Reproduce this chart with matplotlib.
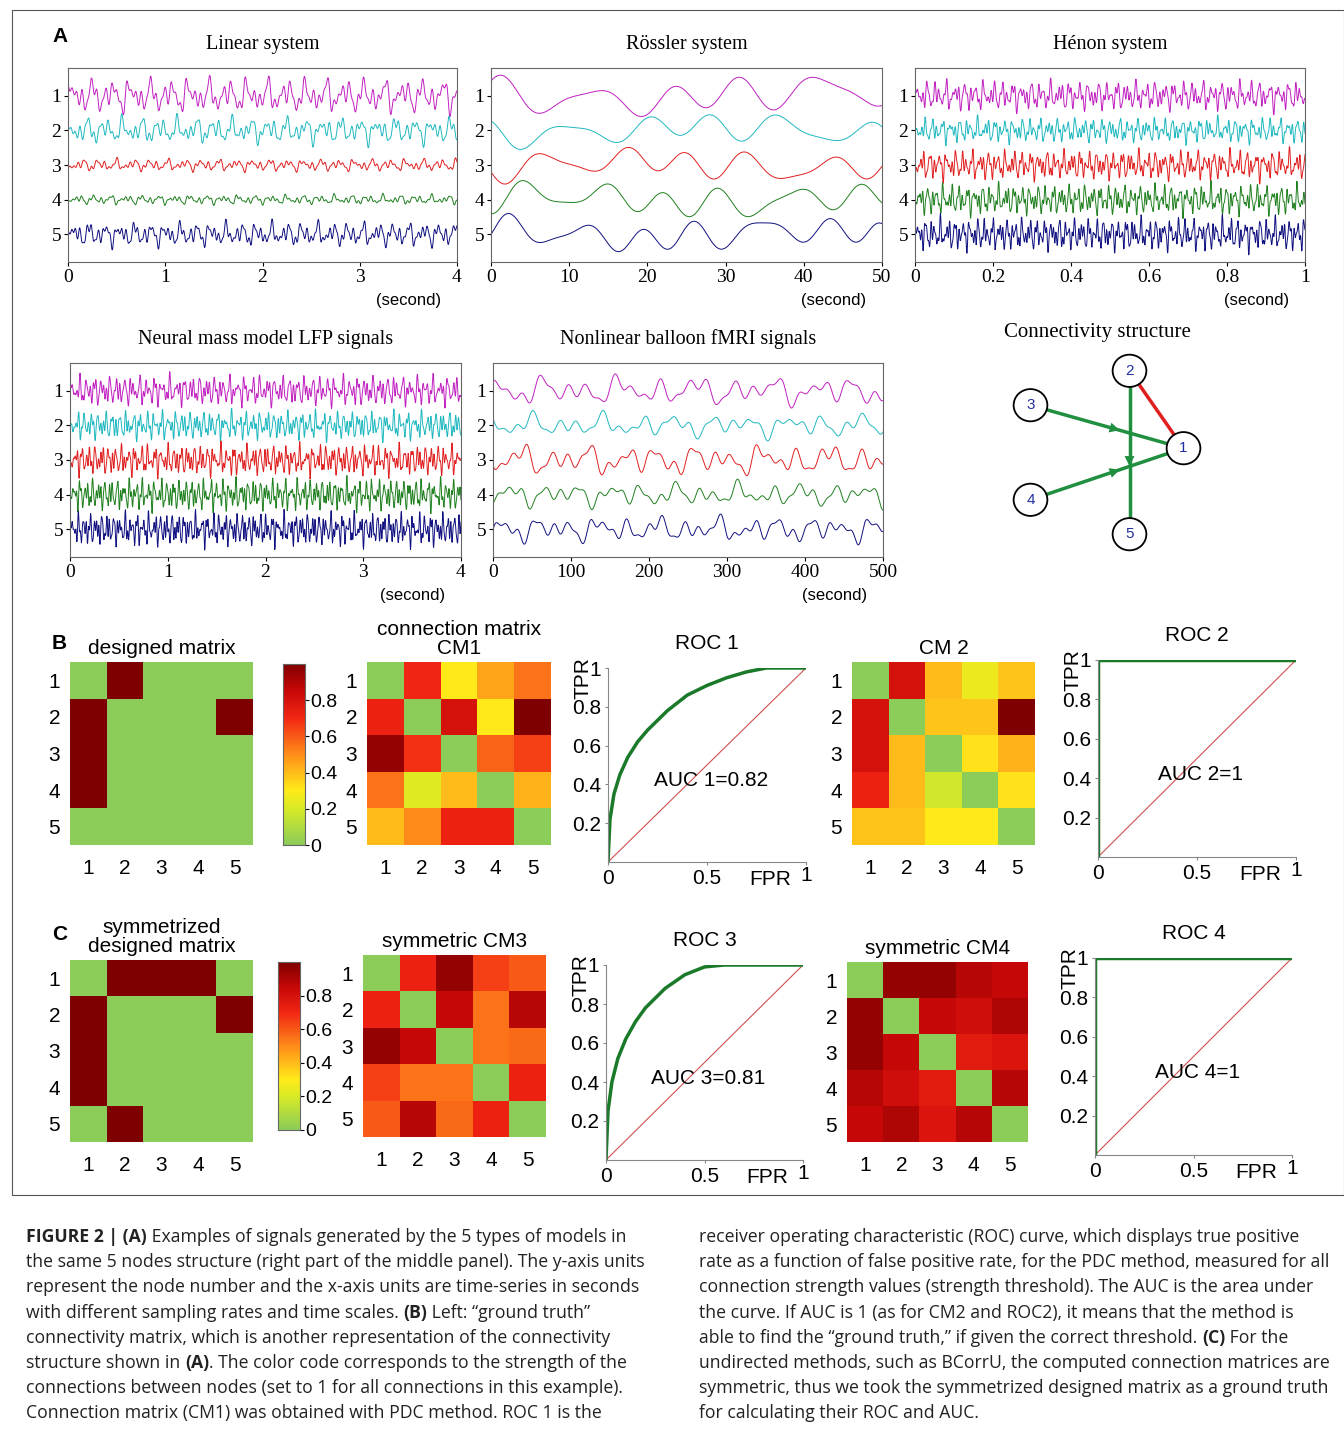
import numpy as np
import matplotlib.pyplot as plt
from matplotlib.colors import LinearSegmentedColormap
from matplotlib.patches import Rectangle, Circle, FancyArrowPatch

W, H = 1344, 1431
SERIF = 'Liberation Serif'
SANS = 'Liberation Sans'

# ---- data ----
node_ticks = [1, 2, 3, 4, 5]
trace_colors = ['#c020c0', '#20b8c0', '#e02020', '#208020', '#101080']

# signal panels: title, x range, x ticks, x tick labels, base frequencies, amplitudes per trace
signal_panels = [
    ('Linear system', (0, 4), [0, 1, 2, 3, 4], ['0', '1', '2', '3', '4'], [5.0, 8.3, 13.1, 19.7], [0.6, 0.5, 0.22, 0.18, 0.45]),
    ('Rössler system', (0, 50), [0, 10, 20, 30, 40, 50], ['0', '10', '20', '30', '40', '50'], [0.1, 0.13, 0.07, 0.02], [0.6, 0.55, 0.55, 0.55, 0.6]),
    ('Hénon system', (0, 1), [0, 0.2, 0.4, 0.6, 0.8, 1], ['0', '0.2', '0.4', '0.6', '0.8', '1'], [41.0, 63.7, 97.3, 131.9], [0.55, 0.45, 0.55, 0.55, 0.6]),
    ('Neural mass model LFP signals', (0, 4), [0, 1, 2, 3, 4], ['0', '1', '2', '3', '4'], [13.0, 19.7, 29.3, 37.1], [0.55, 0.5, 0.55, 0.55, 0.6]),
    ('Nonlinear balloon fMRI signals', (0, 500), [0, 100, 200, 300, 400, 500], ['0', '100', '200', '300', '400', '500'], [0.02, 0.033, 0.051, 0.011], [0.5, 0.45, 0.45, 0.45, 0.45]),
]

designed = [[0, 1, 0, 0, 0], [1, 0, 0, 0, 1], [1, 0, 0, 0, 0], [1, 0, 0, 0, 0], [0, 0, 0, 0, 0]]
designed_sym = [[0, 1, 1, 1, 0], [1, 0, 0, 0, 1], [1, 0, 0, 0, 0], [1, 0, 0, 0, 0], [0, 1, 0, 0, 0]]
cm1 = [[0, 0.70, 0.30, 0.45, 0.55], [0.72, 0, 0.80, 0.30, 1.0], [0.95, 0.68, 0, 0.58, 0.65],
       [0.55, 0.22, 0.40, 0, 0.42], [0.40, 0.50, 0.72, 0.72, 0]]
cm2 = [[0, 0.80, 0.40, 0.25, 0.38], [0.80, 0, 0.38, 0.38, 1.0], [0.80, 0.40, 0, 0.32, 0.42],
       [0.72, 0.40, 0.18, 0, 0.32], [0.38, 0.38, 0.30, 0.30, 0]]
cm3 = [[0, 0.72, 0.95, 0.65, 0.60], [0.72, 0, 0.85, 0.55, 0.88], [0.95, 0.85, 0, 0.55, 0.57],
       [0.65, 0.55, 0.55, 0, 0.72], [0.60, 0.88, 0.57, 0.72, 0]]
cm4 = [[0, 0.95, 0.95, 0.88, 0.85], [0.95, 0, 0.85, 0.82, 0.90], [0.95, 0.85, 0, 0.75, 0.78],
       [0.88, 0.82, 0.75, 0, 0.88], [0.85, 0.90, 0.78, 0.88, 0]]

roc_fpr = [0, 0.01, 0.03, 0.06, 0.1, 0.15, 0.2, 0.3, 0.4, 0.5, 0.6, 0.7, 0.8, 0.9, 1.0]
roc1_tpr = [0, 0.22, 0.35, 0.45, 0.54, 0.62, 0.68, 0.78, 0.86, 0.91, 0.95, 0.98, 1.0, 1.0, 1.0]
roc3_tpr = [0, 0.25, 0.40, 0.52, 0.62, 0.71, 0.78, 0.88, 0.95, 0.99, 1.0, 1.0, 1.0, 1.0, 1.0]
roc_perfect_fpr = [0, 0, 1]
roc_perfect_tpr = [0, 1, 1]

nodes = {1: (0.86, 0.52), 2: (0.62, 0.88), 3: (0.18, 0.72), 4: (0.18, 0.28), 5: (0.62, 0.12)}
green_edges = [(3, 1), (4, 1), (2, 5)]
red_edges = [(2, 1)]

cmap = LinearSegmentedColormap.from_list('gyr', [
    (0.0, (0.55, 0.80, 0.35)), (0.2, (0.85, 0.92, 0.15)), (0.3, (1.0, 0.92, 0.1)),
    (0.5, (1.0, 0.55, 0.1)), (0.7, (0.95, 0.15, 0.08)), (0.85, (0.78, 0.03, 0.03)), (1.0, (0.5, 0.0, 0.0))])

fig = plt.figure(figsize=(W / 100, H / 100), dpi=100)


def px_ax(x0, y0, x1, y1, **kw):
    return fig.add_axes([x0 / W, 1 - y1 / H, (x1 - x0) / W, (y1 - y0) / H], **kw)


def ftext(x, y, s, **kw):
    return fig.text(x / W, 1 - y / H, s, **kw)


# frame around the figure area
fig.add_artist(Rectangle((12 / W, 1 - 1195 / H), 1332 / W, 1185 / H, transform=fig.transFigure,
                         fill=False, lw=0.8, ec='#555555'))

# ---- panel A: signals ----
sig_boxes = [(68, 68, 457, 262), (491, 68, 882, 262), (915, 68, 1305, 262),
             (70, 363, 461, 557), (493, 363, 883, 557)]
for (title, xr, xt, xtl, freqs, amps), box in zip(signal_panels, sig_boxes):
    ax = px_ax(*box)
    t = np.linspace(xr[0], xr[1], 1200)
    for k in range(5):
        y = np.zeros_like(t)
        for m, f in enumerate(freqs):
            y += np.sin(2 * np.pi * f * (1 + 0.07 * k) * t + 1.3 * k + 0.9 * m) / (m + 1) ** 0.4
        y = y / np.abs(y).max() * amps[k]
        ax.plot(t, (k + 1) - y, color=trace_colors[k], lw=0.7)
    ax.set_xlim(*xr)
    ax.set_ylim(5.8, 0.2)
    ax.set_yticks(node_ticks)
    ax.set_yticklabels([str(n) for n in node_ticks], family=SERIF, fontsize=14)
    ax.set_xticks(xt)
    ax.set_xticklabels(xtl, family=SERIF, fontsize=14)
    ax.tick_params(length=3, pad=2)
    for s in ax.spines.values():
        s.set_color('#666666')
    ax.set_title(title, family=SERIF, fontsize=14.5, pad=14)
    ax.text(0.96, -0.2, '(second)', transform=ax.transAxes, ha='right', va='center',
            family=SANS, fontsize=12)

ftext(52, 37, 'A', family=SANS, fontsize=15, weight='bold', va='center')

# connectivity structure
ax = px_ax(990, 345, 1215, 560)
ax.set_xlim(0, 1)
ax.set_ylim(0, 1)
ax.axis('off')
ftext(1097, 333, 'Connectivity structure', family=SERIF, fontsize=15, ha='center', va='center')
for a, b in green_edges + red_edges:
    col = '#209040' if (a, b) in green_edges else '#e02020'
    p0, p1 = nodes[a], nodes[b]
    ax.plot([p0[0], p1[0]], [p0[1], p1[1]], color=col, lw=2.5)
    if col == '#209040':
        mid = (p0[0] + 0.6 * (p1[0] - p0[0]), p0[1] + 0.6 * (p1[1] - p0[1]))
        ax.add_patch(FancyArrowPatch(p0, mid, arrowstyle='-|>', mutation_scale=18, color=col, lw=0))
for n, (x, y) in nodes.items():
    ax.add_patch(Circle((x, y), 0.075, fc='white', ec='black', lw=1.3, zorder=3))
    ax.text(x, y, str(n), ha='center', va='center', fontsize=11, color='#2030a0', zorder=4, family=SANS)

# ---- panels B and C ----


def matrix(box, mat, title):
    ax = px_ax(*box)
    ax.imshow(np.array(mat), cmap=cmap, vmin=0, vmax=1, aspect='auto')
    ax.set_xticks(range(5))
    ax.set_yticks(range(5))
    ax.set_xticklabels(node_ticks, family=SANS, fontsize=15)
    ax.set_yticklabels(node_ticks, family=SANS, fontsize=15)
    ax.tick_params(axis='x', length=0, pad=10)
    ax.tick_params(axis='y', length=0, pad=7)
    for s in ax.spines.values():
        s.set_visible(False)
    ax.set_title(title, family=SANS, fontsize=15, pad=6, linespacing=1.0)
    return ax


def colorbar(box):
    ax = px_ax(*box)
    grad = np.linspace(0, 1, 256)[:, None]
    ax.imshow(grad, cmap=cmap, aspect='auto', origin='lower', extent=[0, 1, 0, 1])
    ax.set_xticks([])
    ax.yaxis.tick_right()
    ax.set_yticks([0, 0.2, 0.4, 0.6, 0.8])
    ax.set_yticklabels(['0', '0.2', '0.4', '0.6', '0.8'], family=SANS, fontsize=14)
    ax.tick_params(length=3, pad=1)
    for s in ax.spines.values():
        s.set_color('#666666')


def roc(box, fpr, tpr, title, auc):
    ax = px_ax(*box)
    ax.plot([0, 1], [0, 1], color='#d05050', lw=0.8)
    ax.plot(fpr, tpr, color='#1a7a2a', lw=2.5)
    ax.set_xlim(0, 1.0)
    ax.set_ylim(0, 1.0)
    ax.set_xticks([0, 0.5, 1])
    ax.set_xticklabels(['0', '0.5', ''], family=SANS, fontsize=15)
    ax.set_yticks([0.2, 0.4, 0.6, 0.8, 1])
    ax.set_yticklabels(['0.2', '0.4', '0.6', '0.8', '1'], family=SANS, fontsize=15)
    ax.tick_params(length=2, pad=3, color='#888888')
    for s in ('top', 'right'):
        ax.spines[s].set_visible(False)
    for s in ('left', 'bottom'):
        ax.spines[s].set_color('#888888')
    ax.set_title(title, family=SANS, fontsize=15, pad=14)
    ax.text(-0.08, 0.95, 'TPR', rotation=90, transform=ax.transAxes, ha='right', va='center',
            family=SANS, fontsize=15)
    ax.text(0.82, -0.09, 'FPR', transform=ax.transAxes, ha='center', va='center', family=SANS, fontsize=15)
    ax.text(1.0, -0.07, '1', transform=ax.transAxes, ha='center', va='center', family=SANS, fontsize=15)
    ax.text(0.52, 0.42, auc, transform=ax.transAxes, ha='center', va='center', family=SANS, fontsize=15)


ftext(52, 644, 'B', family=SANS, fontsize=15, weight='bold', va='center')
matrix((70, 662, 253, 845), designed, 'designed matrix')
colorbar((283, 664, 305, 845))
matrix((367, 662, 551, 845), cm1, 'connection matrix\nCM1')
roc((608, 668, 806, 862), roc_fpr, roc1_tpr, 'ROC 1', 'AUC 1=0.82')
matrix((852, 662, 1035, 845), cm2, 'CM 2')
roc((1098, 660, 1296, 857), roc_perfect_fpr, roc_perfect_tpr, 'ROC 2', 'AUC 2=1')

ftext(52, 934, 'C', family=SANS, fontsize=15, weight='bold', va='center')
matrix((70, 960, 253, 1142), designed_sym, 'symmetrized\ndesigned matrix')
colorbar((278, 962, 300, 1130))
matrix((363, 955, 546, 1137), cm3, 'symmetric CM3')
roc((606, 965, 803, 1160), roc_fpr, roc3_tpr, 'ROC 3', 'AUC 3=0.81')
matrix((847, 962, 1028, 1142), cm4, 'symmetric CM4')
roc((1095, 958, 1292, 1155), roc_perfect_fpr, roc_perfect_tpr, 'ROC 4', 'AUC 4=1')

# ---- caption ----
left_lines = [
    [('FIGURE 2 | (A)', True), (' Examples of signals generated by the 5 types of models in', False)],
    [('the same 5 nodes structure (right part of the middle panel). The y-axis units', False)],
    [('represent the node number and the x-axis units are time-series in seconds', False)],
    [('with different sampling rates and time scales. ', False), ('(B)', True), (' Left: \u201cground truth\u201d', False)],
    [('connectivity matrix, which is another representation of the connectivity', False)],
    [('structure shown in ', False), ('(A)', True), ('. The color code corresponds to the strength of the', False)],
    [('connections between nodes (set to 1 for all connections in this example).', False)],
    [('Connection matrix (CM1) was obtained with PDC method. ROC 1 is the', False)],
]
right_lines = [
    [('receiver operating characteristic (ROC) curve, which displays true positive', False)],
    [('rate as a function of false positive rate, for the PDC method, measured for all', False)],
    [('connection strength values (strength threshold). The AUC is the area under', False)],
    [('the curve. If AUC is 1 (as for CM2 and ROC2), it means that the method is', False)],
    [('able to find the \u201cground truth,\u201d if given the correct threshold. ', False), ('(C)', True), (' For the', False)],
    [('undirected methods, such as BCorrU, the computed connection matrices are', False)],
    [('symmetric, thus we took the symmetrized designed matrix as a ground truth', False)],
    [('for calculating their ROC and AUC.', False)],
]

fig.canvas.draw()
renderer = fig.canvas.get_renderer()


def caption(x0, lines):
    for i, segs in enumerate(lines):
        x = x0
        y = 1237 + i * 25.2
        for s, bold in segs:
            t = ftext(x, y, s, family='Open Sans', fontsize=12.7, va='center',
                      weight='bold' if bold else 'normal', color='#222222')
            x += t.get_window_extent(renderer).width


caption(26, left_lines)
caption(699, right_lines)

fig.savefig('out.png', dpi=100)
